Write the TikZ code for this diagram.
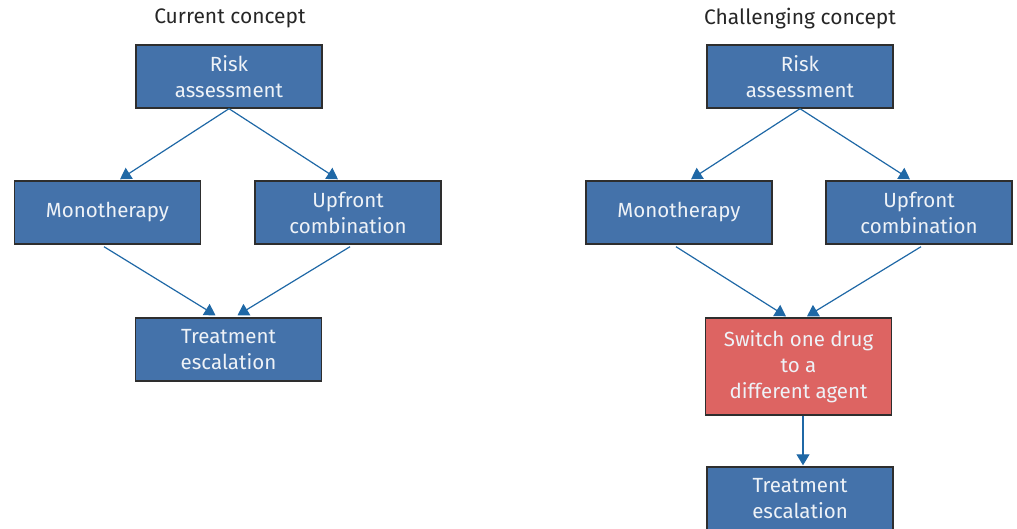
\documentclass[tikz,border=0pt]{standalone}
\usepackage{fontspec}
\setmainfont{Fira Sans}
\usetikzlibrary{arrows.meta,calc}
\definecolor{boxblue}{HTML}{4472AA}
\definecolor{boxred}{HTML}{DD6462}
\definecolor{arrowblue}{HTML}{1F68A6}
\definecolor{edgegray}{HTML}{2E2E2E}
\definecolor{boxtext}{HTML}{EEF2F7}
\begin{document}
\begin{tikzpicture}[x=1pt,y=-1pt,
  box/.style={draw=edgegray,line width=1.4pt,fill=boxblue,text=boxtext,
    minimum width=186pt,minimum height=63pt,inner sep=0pt,align=center,
    font=\fontsize{20.5}{26}\selectfont},
  redbox/.style={box,fill=boxred,minimum height=97pt},
  title/.style={text=black!85,font=\fontsize{21}{24}\selectfont},
  arr/.style={draw=arrowblue,line width=1.2pt,-{Triangle[width=13pt,length=11pt]}}]
\useasboundingbox (0,0) rectangle (1017,528);
% left
\node[title] (t1) at (230,18.5) {Current concept};
\node[box] (ra1) at (229,76.5) {Risk\\assessment};
\node[box] (mo1) at (107.5,212.5) {Monotherapy};
\node[box] (up1) at (348,212.5) {Upfront\\combination};
\node[box] (te1) at (228.5,349.5) {Treatment\\escalation};
\draw[arr] (ra1.south) -- ($(mo1.north)+(12.5,-1)$);
\draw[arr] (ra1.south) -- ($(up1.north)+(-10,-1)$);
\draw[arr] ($(mo1.south)+(-3.5,2)$) -- ($(te1.north)+(-13,-2)$);
\draw[arr] ($(up1.south)+(2,2)$) -- ($(te1.north)+(9,-2)$);
% right
\node[title] (t2) at (800,18.5) {Challenging concept};
\node[box] (ra2) at (800,76.5) {Risk\\assessment};
\node[box] (mo2) at (679,212.5) {Monotherapy};
\node[box] (up2) at (919,212.5) {Upfront\\combination};
\node[redbox] (sw) at (798.5,366.5) {Switch one drug\\to a\\different agent};
\node[box] (te2) at (800,498.5) {Treatment\\escalation};
\draw[arr] (ra2.south) -- ($(mo2.north)+(12,-1)$);
\draw[arr] (ra2.south) -- ($(up2.north)+(-9,-1)$);
\draw[arr] ($(mo2.south)+(-3,2)$) -- ($(sw.north)+(-12.5,-1)$);
\draw[arr] ($(up2.south)+(2,2)$) -- ($(sw.north)+(8.5,-1)$);
\draw[arr] ($(sw.south)+(4.5,0)$) -- ($(te2.north)+(3,-1)$);
\end{tikzpicture}
\end{document}
